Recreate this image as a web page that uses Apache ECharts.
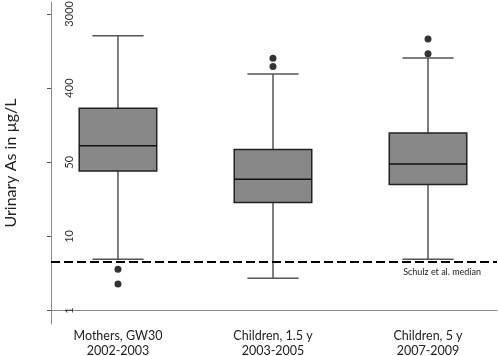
<!DOCTYPE html>
<html>
<head>
<meta charset="utf-8">
<script src="https://cdn.jsdelivr.net/npm/echarts@6/dist/echarts.min.js"></script>
<style>
  html, body { margin: 0; padding: 0; background: #fff; }
  #main { width: 498px; height: 356px; }
</style>
</head>
<body>
<div id="main"></div>
<script>
var groups = ['Mothers, GW30\n2002-2003', 'Children, 1.5 y\n2003-2005', 'Children, 5 y\n2007-2009'];
// box statistics in µg/L
var lowWhisker = [4.0, 2.4, 4.0];
var q1 = [43, 18.5, 30];
var medians = [85, 34.5, 52];
var q3 = [234, 77, 120];
var highWhisker = [1650, 590, 910];
// outliers: [group number, µg/L]
var outliers = [[1, 3.05], [1, 2.05], [2, 900], [2, 720], [3, 1510], [3, 1020]];
var schulzMedian = 3.75;
// y axis is ln(µg/L); ticks at ln = 0,2,4,6,8 with rounded labels
var tickPos = [0, 2, 4, 6, 8];
var tickLabels = ['1', '10', '50', '400', '3000'];

var font = 'Lato';
var chart = echarts.init(document.getElementById('main'));

var boxData = groups.map(function (g, i) {
  return [i + 1, Math.log(lowWhisker[i]), Math.log(q1[i]), Math.log(medians[i]),
    Math.log(q3[i]), Math.log(highWhisker[i])];
});
var outlierData = outliers.map(function (o) { return [o[0], Math.log(o[1])]; });

function renderBox(params, api) {
  var x = api.value(0);
  var low = api.coord([x, api.value(1)]);
  var p1 = api.coord([x, api.value(2)]);
  var med = api.coord([x, api.value(3)]);
  var p3 = api.coord([x, api.value(4)]);
  var high = api.coord([x, api.value(5)]);
  var unit = api.size([1, 0])[0];
  var bw = unit * 0.5, cw = unit * 0.33;
  var cx = low[0];
  var whisk = { stroke: '#555', lineWidth: 1.5 };
  return {
    type: 'group',
    children: [
      { type: 'line', shape: { x1: cx, y1: high[1], x2: cx, y2: p3[1] }, style: whisk },
      { type: 'line', shape: { x1: cx, y1: p1[1], x2: cx, y2: low[1] }, style: whisk },
      { type: 'line', shape: { x1: cx - cw / 2, y1: high[1], x2: cx + cw / 2, y2: high[1] }, style: whisk },
      { type: 'line', shape: { x1: cx - cw / 2, y1: low[1], x2: cx + cw / 2, y2: low[1] }, style: whisk },
      { type: 'rect', shape: { x: cx - bw / 2, y: p3[1], width: bw, height: p1[1] - p3[1] },
        style: { fill: '#888888', stroke: '#222', lineWidth: 1.5 } },
      { type: 'line', shape: { x1: cx - bw / 2, y1: med[1], x2: cx + bw / 2, y2: med[1] },
        style: { stroke: '#111', lineWidth: 1.5 } }
    ]
  };
}

var option = {
  animation: false,
  grid: { left: 51, right: 1, top: 2, bottom: 32, outerBoundsMode: 'none' },
  xAxis: {
    type: 'value',
    min: 0.568,
    max: 3.445,
    axisLine: { lineStyle: { color: '#888', width: 1 } },
    axisTick: { show: false },
    splitLine: { show: false },
    axisLabel: {
      customValues: [1, 2, 3],
      formatter: function (v) { return groups[Math.round(v) - 1]; },
      fontFamily: font, fontSize: 12.5, color: '#222', lineHeight: 15, margin: 4
    }
  },
  yAxis: {
    type: 'value',
    min: -0.36,
    max: 8.32,
    name: 'Urinary As in µg/L',
    nameLocation: 'middle',
    nameGap: 32,
    nameTextStyle: { fontFamily: font, fontSize: 16, color: '#222' },
    axisLine: { show: true, lineStyle: { color: '#888', width: 1 } },
    axisTick: { show: true, length: 4, customValues: tickPos, lineStyle: { color: '#555' } },
    splitLine: { show: false },
    axisLabel: {
      customValues: tickPos,
      rotate: 90,
      margin: -24,
      align: 'center',
      verticalAlign: 'bottom',
      formatter: function (v) { return tickLabels[tickPos.indexOf(Math.round(v))]; },
      fontFamily: font, fontSize: 11, color: '#333'
    }
  },
  series: [
    {
      type: 'custom',
      renderItem: renderBox,
      data: boxData,
      encode: { x: 0, y: [1, 2, 3, 4, 5] },
      z: 3
    },
    {
      type: 'scatter',
      data: outlierData,
      symbolSize: 7,
      itemStyle: { color: '#000' },
      z: 4,
      markLine: {
        silent: true,
        symbol: ['none', 'none'],
        data: [{ yAxis: Math.log(schulzMedian) }],
        lineStyle: { color: '#000', width: 2, type: [9, 4] },
        label: {
          show: true,
          position: 'insideEndBottom',
          distance: [16, 6],
          formatter: 'Schulz et al. median',
          fontFamily: font, fontSize: 9, color: '#222'
        }
      }
    }
  ]
};
chart.setOption(option);
</script>
</body>
</html>
